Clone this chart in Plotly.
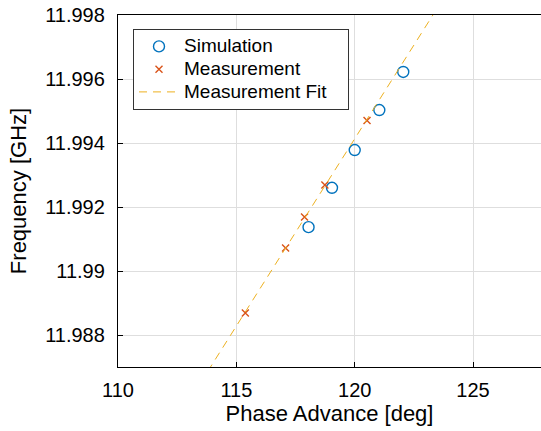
import numpy as np
import plotly.graph_objects as go

# Data
sim_phase = [118.05, 119.04, 120.0, 121.04, 122.05]
sim_freq = [11.99137, 11.99260, 11.99378, 11.99503, 11.99622]

meas_phase = [115.38, 117.08, 117.88, 118.74, 120.52]
meas_freq = [11.98869, 11.99072, 11.99169, 11.99269, 11.99470]

x_tickvals = [110, 115, 120, 125]
x_ticktext = ["110", "115", "120", "125"]
y_tickvals = [11.988, 11.990, 11.992, 11.994, 11.996, 11.998]
y_ticktext = ["11.988", "11.99", "11.992", "11.994", "11.996", "11.998"]

x_range = [110, 127.87]
y_range = [11.987, 11.998]

# Linear fit of the measurement
coef = np.polyfit(meas_phase, meas_freq, 1)
fit_x = np.array(x_range)
fit_y = np.polyval(coef, fit_x)


def lg(t, pad=0):
    return '<span style="font-size:19px">' + t + '&nbsp;' * pad + '</span>'


fig = go.Figure()
fig.add_trace(go.Scatter(
    x=sim_phase, y=sim_freq, mode="markers", name=lg("Simulation"),
    marker=dict(symbol="circle-open", size=11, color="#0072BD",
                line=dict(width=1.4, color="#0072BD")),
))
fig.add_trace(go.Scatter(
    x=meas_phase, y=meas_freq, mode="markers", name=lg("Measurement"),
    marker=dict(symbol="x-thin-open", size=7, color="#D95319",
                line=dict(width=1.4, color="#D95319")),
))
fig.add_trace(go.Scatter(
    x=fit_x, y=fit_y, mode="lines", name=lg("Measurement Fit", 3),
    line=dict(color="#EDB120", width=1, dash="8px,6px"),
))

font = "Liberation Sans, Arial, sans-serif"
fig.update_layout(
    width=541, height=431,
    margin=dict(l=118, r=0, t=15, b=64),
    paper_bgcolor="white", plot_bgcolor="white",
    font=dict(family=font, color="#000000"),
    showlegend=True,
    legend=dict(
        x=(133 - 118) / 423, y=(367 - 29) / 352,
        xanchor="left", yanchor="top",
        bgcolor="white", bordercolor="#333333", borderwidth=1,
        font=dict(size=15.2, family=font, color="#000000"),
        tracegroupgap=0, itemwidth=40,
    ),
    xaxis=dict(
        range=x_range, tickvals=x_tickvals, ticktext=x_ticktext,
        showgrid=True, gridcolor="#dedede", gridwidth=1,
        showline=True, linecolor="black", linewidth=1.3, mirror=True,
        ticks="inside", ticklen=5, tickcolor="black", tickwidth=1,
        tickfont=dict(size=20), zeroline=False, ticklabelstandoff=5,
        title=dict(text="Phase Advance [deg]", font=dict(size=22), standoff=5),
    ),
    yaxis=dict(
        range=y_range, tickvals=y_tickvals, ticktext=y_ticktext,
        showgrid=True, gridcolor="#dedede", gridwidth=1,
        showline=True, linecolor="black", linewidth=1.3, mirror=False,
        ticks="inside", ticklen=5, tickcolor="black", tickwidth=1,
        tickfont=dict(size=20), zeroline=False, ticklabelstandoff=8,
        title=dict(text="Frequency [GHz]", font=dict(size=22), standoff=12),
    ),
)

fig.write_html("out.html")
